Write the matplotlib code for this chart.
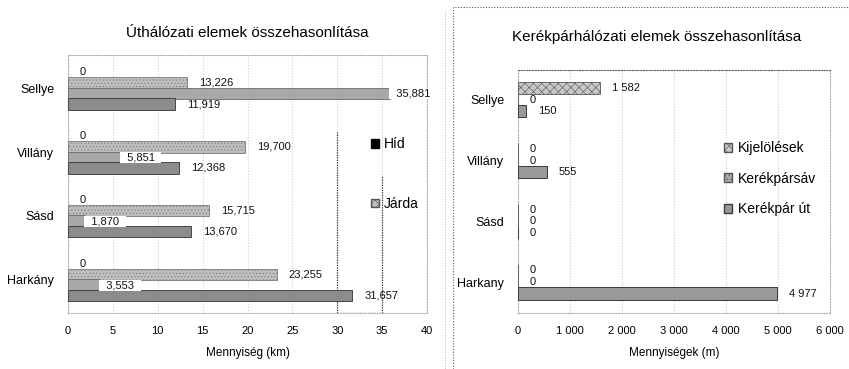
import numpy as np
import matplotlib
matplotlib.use("Agg")
import matplotlib.pyplot as plt
from matplotlib.lines import Line2D
from matplotlib.patches import Patch

plt.rcParams['font.family'] = ['Liberation Sans', 'DejaVu Sans']
plt.rcParams['hatch.linewidth'] = 0.4

# --- Data ---
telepulesek = ['Sellye', 'Villány', 'Sásd', 'Harkány']
telepulesek_kp = ['Sellye', 'Villány', 'Sásd', 'Harkany']

# road network (km)
hid = [0, 0, 0, 0]
jarda = [13.226, 19.700, 15.715, 23.255]
sorozat3 = [35.881, 5.851, 1.870, 3.553]
sorozat4 = [11.919, 12.368, 13.670, 31.657]

# cycle network (m)
kijelolesek = [1582, 0, 0, 0]
kerekparsav = [0, 0, 0, 0]
kerekpar_ut = [150, 555, 0, 4977]

ut_ticks = np.arange(0, 45, 5)
kp_ticks = np.arange(0, 7000, 1000)

y = np.arange(len(telepulesek))[::-1]


def km_fmt(v):
    return '0' if v == 0 else f'{v:.3f}'.replace('.', ',')


def m_fmt(v):
    return f'{v:,.0f}'.replace(',', ' ')


def style_axes(ax):
    for s in ax.spines.values():
        s.set_linestyle((0, (1, 1.5)))
        s.set_color('#b0b0b0')
        s.set_linewidth(0.8)
    ax.tick_params(length=0, labelsize=8)
    ax.tick_params(axis='x', pad=9)
    ax.tick_params(axis='y', pad=10, labelsize=9)
    ax.grid(axis='x', color='#cfcfcf', linestyle=(0, (1, 1.5)), linewidth=0.8)
    ax.set_axisbelow(True)


fig = plt.figure(figsize=(8.49, 3.69), dpi=100)

# --- Road network chart ---
ax1 = fig.add_axes([68 / 849, 56 / 369, 359 / 849, 258 / 369])
style_axes(ax1)
h = 0.18
offs = [0.2475, 0.0825, -0.0825, -0.2475]
ax1.barh(y + offs[0], hid, h, color='black', zorder=2)
ax1.barh(y + offs[1], jarda, h, color='#bebebe', edgecolor='#7a7a7a', linewidth=0.6, hatch='.....', zorder=3)
ax1.barh(y + offs[2], sorozat3, h, color='#a8a8a8', edgecolor='#6a6a6a', linewidth=0.6, zorder=4)
ax1.barh(y + offs[3], sorozat4, h, color='#8c8c8c', edgecolor='#444444', linewidth=0.7, zorder=5)

lbl = dict(va='center', ha='left', fontsize=8, color='#111111')
for yi, v in zip(y, hid):
    ax1.annotate(km_fmt(v), (v, yi + offs[0]), xytext=(12, 0), textcoords='offset pixels', zorder=7, **lbl)
for yi, v in zip(y, jarda):
    ax1.annotate(km_fmt(v), (v, yi + offs[1]), xytext=(12, 0), textcoords='offset pixels', zorder=7, **lbl)
for yi, v in zip(y, sorozat3):
    ax1.annotate('  ' + km_fmt(v) + '  ', (v, yi + offs[2]), xytext=(0, 0), textcoords='offset pixels',
                 zorder=8, annotation_clip=False,
                 bbox=dict(boxstyle='square,pad=0.05', fc='white', ec='none'), **lbl)
for yi, v in zip(y, sorozat4):
    ax1.annotate(km_fmt(v), (v, yi + offs[3]), xytext=(12, 0), textcoords='offset pixels', zorder=7, **lbl)

ax1.set_xlim(0, 40)
ax1.set_ylim(-0.52, 3.52)
ax1.set_xticks(ut_ticks)
ax1.set_yticks(y)
ax1.set_yticklabels(telepulesek)
ax1.set_xlabel('Mennyiség (km)', fontsize=8.5, labelpad=8)

# darker dotted gridline pieces behind the legend
ax1.axvline(30, ymin=0, ymax=0.70, color='#333333', linestyle=(0, (1, 1)), linewidth=0.9, zorder=1)
ax1.axvline(35, ymin=0, ymax=0.53, color='#333333', linestyle=(0, (1, 1)), linewidth=0.9, zorder=1)
ax1.axhline(-0.52, xmin=0.75, xmax=0.875, color='#333333', linestyle=(0, (1, 1)), linewidth=0.9)

ax1.legend(handles=[Patch(facecolor='black', edgecolor='black', label='Híd'),
                    Patch(facecolor='#bebebe', edgecolor='#555555', hatch='xxxx', label='Járda')],
           loc='upper left', bbox_to_anchor=(371 / 849, 1 - 137 / 369),
           bbox_transform=fig.transFigure, frameon=False, fontsize=10,
           handlelength=0.6, handleheight=0.6, handletextpad=0.3,
           labelspacing=3.3, borderpad=0, borderaxespad=0)

fig.text(247 / 849, 1 - 33 / 369, 'Úthálózati elemek összehasonlítása',
         ha='center', va='center', fontsize=11)

# --- Cycle network chart ---
ax2 = fig.add_axes([518 / 849, 56 / 369, 312 / 849, 243 / 369])
style_axes(ax2)
ax2.spines['top'].set_color('#666666')
h2 = 0.2
offs2 = [0.19, 0.0, -0.19]
ax2.barh(y + offs2[0], kijelolesek, h2, color='#c8c8c8', edgecolor='#555555', linewidth=0.6, hatch='xxxx', zorder=3)
ax2.barh(y + offs2[1], kerekparsav, h2, color='#a8a8a8', edgecolor='#555555', linewidth=0.6, hatch='....', zorder=4)
ax2.barh(y + offs2[2], kerekpar_ut, h2, color='#999999', edgecolor='#3a3a3a', linewidth=0.7, zorder=5)

for vals, off in zip([kijelolesek, kerekparsav, kerekpar_ut], offs2):
    for yi, v in zip(y, vals):
        ax2.annotate(m_fmt(v), (v, yi + off), xytext=(12, 0), textcoords='offset pixels', zorder=7, **lbl)

ax2.set_xlim(0, 6000)
ax2.set_ylim(-0.51, 3.49)
ax2.set_xticks(kp_ticks)
ax2.set_xticklabels([m_fmt(t) for t in kp_ticks])
ax2.set_yticks(y)
ax2.set_yticklabels(telepulesek_kp)
ax2.set_xlabel('Mennyiségek (m)', fontsize=8.5, labelpad=8)

ax2.legend(handles=[Patch(facecolor='#c8c8c8', edgecolor='#555555', hatch='xxxx', label='Kijelölések'),
                    Patch(facecolor='#a8a8a8', edgecolor='#555555', hatch='....', label='Kerékpársáv'),
                    Patch(facecolor='#999999', edgecolor='#3a3a3a', label='Kerékpár út')],
           loc='upper left', bbox_to_anchor=(724 / 849, 1 - 141 / 369),
           bbox_transform=fig.transFigure, frameon=False, fontsize=10,
           handlelength=0.6, handleheight=0.6, handletextpad=0.4,
           labelspacing=1.2, borderpad=0, borderaxespad=0)

fig.text(657 / 849, 1 - 37 / 369, 'Kerékpárhálózati elemek összehasonlítása',
         ha='center', va='center', fontsize=11)

# frame lines between the two charts
fig.add_artist(Line2D([445 / 849, 445 / 849], [0, 1 - 10 / 369], color='#bbbbbb',
                      linestyle=(0, (1, 1.5)), linewidth=0.8))
fig.add_artist(Line2D([453 / 849, 453 / 849, 1], [0, 1 - 7 / 369, 1 - 7 / 369], color='#555555',
                      linestyle=(0, (1, 1.5)), linewidth=0.8))

fig.savefig('out.png', dpi=100)
